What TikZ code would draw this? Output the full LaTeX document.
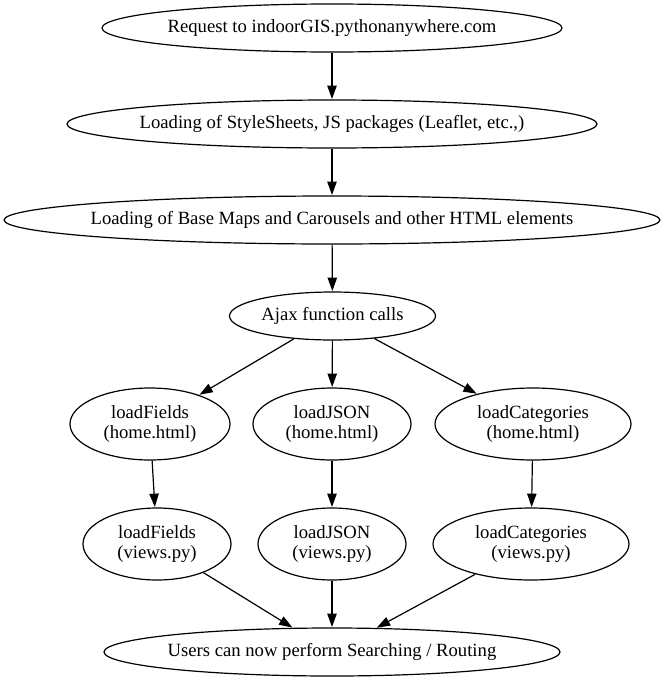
\documentclass[tikz,border=0pt]{standalone}
\usepackage{fontspec}
\setmainfont{Liberation Serif}
\usetikzlibrary{shapes.geometric,arrows.meta}
\tikzset{
  oval/.style={ellipse, draw, line width=0.9pt, inner sep=0pt},
  txt/.style={font=\fontsize{14pt}{15.5pt}\selectfont, align=center},
  conn/.style={line width=0.9pt, -{Triangle[length=10pt,width=7pt]}, shorten >=0.3pt}
}
\newcommand{\ovalnode}[6]{% name, x, y, rx, ry, text
  \node[oval, minimum width=#4*1.5pt, minimum height=#5*1.5pt,
        label={[txt]center:#6}] (#1) at (#2,#3) {};}
\begin{document}
\begin{tikzpicture}[x=0.75pt,y=-0.75pt]
\useasboundingbox (0,0) rectangle (666,682);
\ovalnode{req}{332}{28}{230}{24}{Request to indoorGIS.pythonanywhere.com}
\ovalnode{style}{332}{124}{265}{24}{Loading of StyleSheets, JS packages (Leaflet, etc.,)}
\ovalnode{base}{332}{220}{328}{24}{Loading of Base Maps and Carousels and other HTML elements}
\ovalnode{ajax}{332.5}{316}{103}{24}{Ajax function calls}
\ovalnode{fh}{150}{424}{80}{36}{loadFields\\ (home.html)}
\ovalnode{jh}{332}{424}{79}{36}{loadJSON\\ (home.html)}
\ovalnode{ch}{533}{424}{98}{36}{loadCategories\\ (home.html)}
\ovalnode{fv}{157}{544}{74}{36}{loadFields\\ (views.py)}
\ovalnode{jv}{332}{544}{74}{36}{loadJSON\\ (views.py)}
\ovalnode{cv}{531}{544}{98}{36}{loadCategories\\ (views.py)}
\ovalnode{users}{332}{652}{228}{24}{Users can now perform Searching / Routing}
\draw[conn] (req) -- (style);
\draw[conn] (style) -- (base);
\draw[conn] (base) -- (ajax);
\draw[conn] (ajax) -- (fh);
\draw[conn] (ajax) -- (jh);
\draw[conn] (ajax) -- (ch);
\draw[conn] (fh) -- (fv);
\draw[conn] (jh) -- (jv);
\draw[conn] (ch) -- (cv);
\draw[conn] (fv) -- (users);
\draw[conn] (jv) -- (users);
\draw[conn] (cv) -- (users);
\end{tikzpicture}
\end{document}
